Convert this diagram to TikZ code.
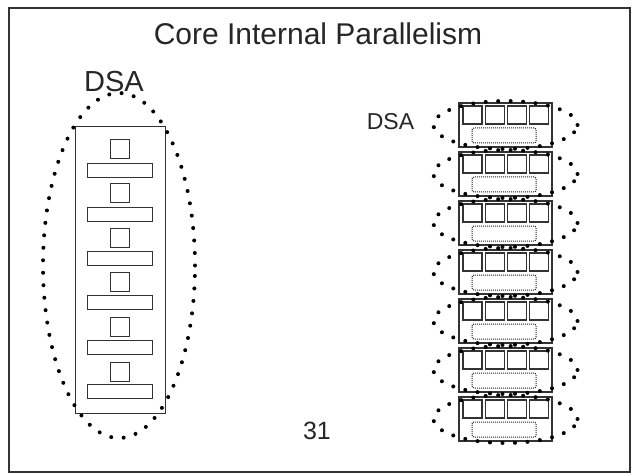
\documentclass[tikz,border=0pt]{standalone}
\usepackage{fontspec}
\setmainfont{Liberation Sans}
\usetikzlibrary{shapes.geometric}

\tikzset{
  frame/.style={draw=black!80, line width=1.2pt, inner sep=0pt},
  cell/.style={draw=black!80, line width=0.9pt, inner sep=0pt},
  lane/.style={cell, line width=1.2pt},
  slot/.style={draw=black!85, line width=1pt, densely dotted, rounded corners=2pt, inner sep=0pt},
  dots/.style={ellipse, inner sep=0pt, draw=black, line width=4pt, line cap=round, dash pattern=on 0pt off 12.5pt}
}

\begin{document}
\begin{tikzpicture}[x=1pt,y=-1pt]
	\useasboundingbox (0,0) rectangle (635,476);
	\node[frame, minimum width=621, minimum height=464] (slide) at (319.5,240) {};
	\node[anchor=base, text=black!85] (title) at (318,45) {\fontsize{30}{32}\selectfont Core Internal Parallelism};
	\node[anchor=base, text=black!85] (num) at (317,439) {\fontsize{25}{27}\selectfont 31};

	% one big DSA
	\node[anchor=base, text=black!85] (bigdsa) at (114,92) {\fontsize{29}{31}\selectfont DSA};
	\node[cell, minimum width=90, minimum height=287] (bigcore) at (120,269.5) {};
	\foreach \i in {0,...,5} {
		\node[cell, minimum width=19, minimum height=19] (sq\i) at (119.5,148.5+44.6*\i) {};
		\node[cell, minimum width=65, minimum height=14] (bar\i) at (119.5,170+44.3*\i) {};
	}
	\node[dots, minimum width=152, minimum height=345] (bigring) at (119,265.5) {};

	% seven small DSAs
	\node[anchor=base, text=black!85] (smalldsa) at (390.5,130) {\fontsize{23}{25}\selectfont DSA};
	\foreach \i in {0,...,6} {
		\node[lane, minimum width=93, minimum height=44] (unit\i) at (505.5,125+49*\i) {};
		\foreach \j in {0,...,3}
			\node[lane, minimum width=19, minimum height=18] (lane\i\j) at (472.5+22.2*\j,115+49*\i) {};
		\node[slot, minimum width=64, minimum height=15] (slot\i) at (504,135.5+49*\i) {};
		\node[dots, minimum width=144, minimum height=48] (ring\i) at (505.5,125+49*\i) {};
	}
\end{tikzpicture}
\end{document}
